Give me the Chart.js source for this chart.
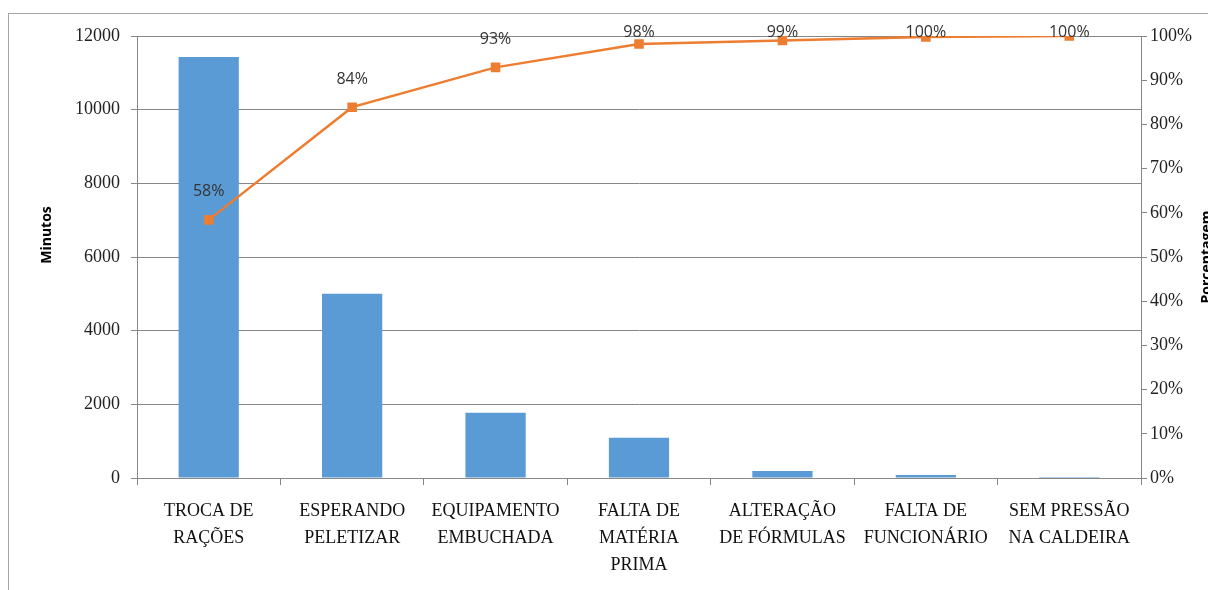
<!DOCTYPE html>
<html>
<head>
<meta charset="utf-8">
<script src="https://cdn.jsdelivr.net/npm/chart.js@4"></script>
<style>
  html, body { margin: 0; padding: 0; background: #ffffff; }
  #wrap { width: 1208px; height: 590px; overflow: hidden; }
</style>
</head>
<body>
<div id="wrap"><canvas id="c" width="1208" height="590"></canvas></div>
<script>
// ---- data ----
const categories = [
  ["TROCA DE", "RAÇÕES"],
  ["ESPERANDO", "PELETIZAR"],
  ["EQUIPAMENTO", "EMBUCHADA"],
  ["FALTA DE", "MATÉRIA", "PRIMA"],
  ["ALTERAÇÃO", "DE FÓRMULAS"],
  ["FALTA DE", "FUNCIONÁRIO"],
  ["SEM PRESSÃO", "NA CALDEIRA"]
];
const minutos = [11430, 5000, 1770, 1090, 190, 80, 30];
const porcentagem = [58.4, 83.9, 92.9, 98.2, 99.0, 99.8, 100];
const pctLabels = ["58%", "84%", "93%", "98%", "99%", "100%", "100%"];
const leftTitle = "Minutos";
const rightTitle = "Porcentagem";

const GRID = '#878787';
const SERIF = "'Liberation Serif', 'DejaVu Serif', serif";
const SANS = "'Open Sans', 'Liberation Sans', sans-serif";

const frame = {
  id: 'frame',
  beforeDraw(chart) {
    const ctx = chart.ctx;
    ctx.save();
    ctx.fillStyle = '#ffffff';
    ctx.fillRect(0, 0, chart.width, chart.height);
    ctx.strokeStyle = '#a6a6a6';
    ctx.lineWidth = 1;
    ctx.strokeRect(8.5, 13.5, chart.width + 20, chart.height + 20);
    ctx.restore();
  },
  afterDraw(chart) {
    const ctx = chart.ctx;
    const a = chart.chartArea;
    ctx.save();
    ctx.fillStyle = '#000000';
    ctx.font = "bold 14px " + SANS;
    ctx.textAlign = 'center';
    ctx.textBaseline = 'middle';
    ctx.translate(47, (a.top + a.bottom) / 2 - 22);
    ctx.rotate(-Math.PI / 2);
    ctx.fillText(leftTitle, 0, 0);
    ctx.restore();
    ctx.save();
    ctx.fillStyle = '#000000';
    ctx.font = "bold 14px " + SANS;
    ctx.textAlign = 'center';
    ctx.textBaseline = 'middle';
    ctx.translate(1207, (a.top + a.bottom) / 2);
    ctx.rotate(-Math.PI / 2);
    ctx.fillText(rightTitle, 0, 0);
    ctx.restore();
  }
};

const pctLabelPlugin = {
  id: 'pctLabels',
  afterDatasetsDraw(chart) {
    const meta = chart.getDatasetMeta(1);
    const ctx = chart.ctx;
    ctx.save();
    ctx.font = "16px " + SANS;
    ctx.fillStyle = '#333333';
    ctx.textAlign = 'center';
    ctx.textBaseline = 'middle';
    meta.data.forEach((pt, i) => {
      const y = Math.max(pt.y - 28, chart.chartArea.top - 4);
      ctx.fillText(pctLabels[i], pt.x, y);
    });
    ctx.restore();
  }
};

new Chart(document.getElementById('c'), {
  data: {
    labels: categories,
    datasets: [
      {
        type: 'bar',
        label: 'Minutos',
        data: minutos,
        yAxisID: 'y',
        backgroundColor: '#5B9BD5',
        borderWidth: 0,
        barPercentage: 0.42,
        categoryPercentage: 1,
        order: 2
      },
      {
        type: 'line',
        label: 'Porcentagem',
        data: porcentagem,
        yAxisID: 'y1',
        borderColor: '#ED7D31',
        borderWidth: 2.5,
        pointStyle: 'rect',
        pointRadius: 5,
        pointBackgroundColor: '#ED7D31',
        pointBorderColor: '#ED7D31',
        tension: 0,
        order: 1
      }
    ]
  },
  options: {
    responsive: false,
    animation: false,
    events: [],
    layout: { padding: { top: 36, left: 0, right: 0, bottom: 0 } },
    plugins: {
      legend: { display: false },
      tooltip: { enabled: false },
      title: { display: false }
    },
    scales: {
      x: {
        offset: true,
        grid: { display: true, offset: true, drawOnChartArea: false, drawTicks: true, tickLength: 7, color: GRID },
        border: { color: GRID },
        ticks: {
          font: { family: SERIF, size: 18, lineHeight: 1.5 },
          color: '#111111',
          padding: 13,
          maxRotation: 0,
          autoSkip: false
        },
        afterFit(s) { s.height = 112; }
      },
      y: {
        position: 'left',
        min: 0,
        max: 12000,
        grid: { color: GRID, tickLength: 6 },
        border: { color: GRID },
        ticks: {
          stepSize: 2000,
          font: { family: SERIF, size: 18 },
          color: '#222222',
          padding: 11,
          callback: v => String(v)
        },
        afterFit(s) { s.width = 137; }
      },
      y1: {
        position: 'right',
        min: 0,
        max: 100,
        grid: { drawOnChartArea: false, drawTicks: true, tickLength: 6, color: GRID },
        border: { color: GRID },
        ticks: {
          stepSize: 10,
          font: { family: SERIF, size: 18 },
          color: '#222222',
          padding: 3,
          callback: v => v + '%'
        },
        afterFit(s) { s.width = 67; }
      }
    }
  },
  plugins: [frame, pctLabelPlugin]
});
</script>
</body>
</html>
